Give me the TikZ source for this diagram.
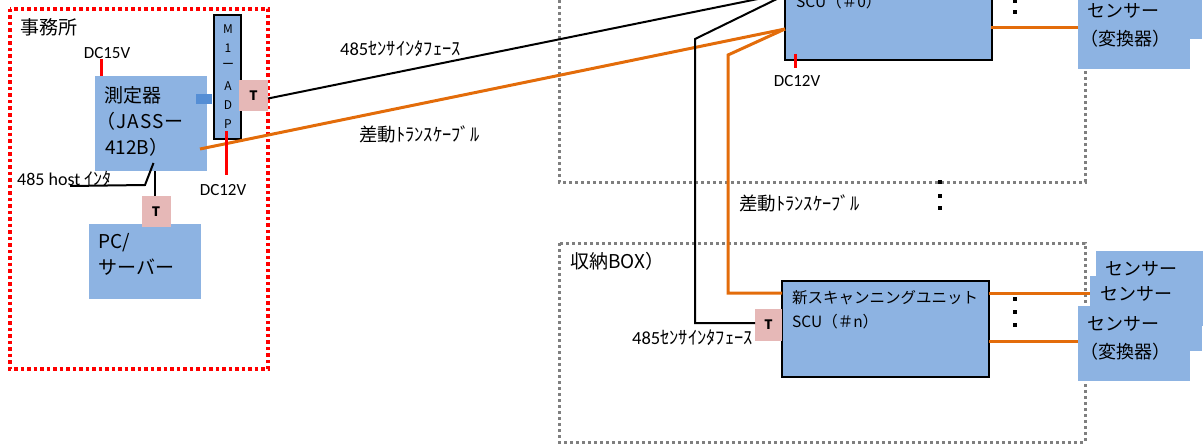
\documentclass[tikz,border=0pt]{standalone}
\usepackage{fontspec}
\setmainfont{Carlito}
\newfontfamily\jpfont{Noto Sans CJK JP}
\tikzset{
  bluebox/.style={fill=boxblue,inner sep=0,outer sep=0},
  unitbox/.style={bluebox,draw=black,line width=2pt,minimum width=207,minimum height=96},
  sensorbox/.style={bluebox,minimum width=112,minimum height=75},
  tbox/.style={fill=tpink,inner sep=0,outer sep=0,minimum width=29,minimum height=31,font=\jpfont\fontsize{13}{13}\selectfont\bfseries},
  bigtext/.style={anchor=west,inner sep=0,font=\jpfont\fontsize{19}{19}\selectfont},
  midtext/.style={anchor=west,inner sep=0,font=\jpfont\fontsize{15.5}{16}\selectfont},
  smalltext/.style={inner sep=0,font=\fontsize{17}{17}\selectfont},
  cabletext/.style={inner sep=0,font=\jpfont\fontsize{18.5}{19}\selectfont},
  sensortext/.style={anchor=west,inner sep=0,font=\jpfont\fontsize{18}{18}\selectfont},
  redline/.style={draw=red,line width=3pt},
  blackline/.style={draw=black,line width=2pt},
  orangeline/.style={draw=cableorange,line width=3pt},
  greybox/.style={draw=dotgrey,line width=3pt,dash pattern=on 3pt off 3pt}
}
\definecolor{boxblue}{HTML}{8DB3E2}
\definecolor{linkblue}{HTML}{558ED5}
\definecolor{tpink}{HTML}{E6B8B7}
\definecolor{cableorange}{HTML}{E36C0A}
\definecolor{dotgrey}{HTML}{7F7F7F}
\begin{document}
\begin{tikzpicture}[x=1pt,y=-1pt]
  \path[use as bounding box,clip] (0,0) rectangle (1203,444);
  % rooms
  \draw[draw=red,line width=3.5pt,dash pattern=on 3.5pt off 3pt] (10,9) rectangle (268,369);
  \draw[greybox] (559,-30) rectangle (1085,182);
  \draw[greybox] (559,243) rectangle (1085,442);
  \node[bigtext] (office) at (20,27) {事務所};
  \node[bigtext] (boxname) at (570,261) {収納BOX）};
  % office side
  \node[bluebox,minimum width=112,minimum height=95] (meter) at (151,123.5) {};
  \node[bigtext] at (104,95) {測定器};
  \node[bigtext] at (96,121) {\addfontfeature{LetterSpace=6}（JASSー};
  \node[bigtext] at (105,147) {412B）};
  \node[bluebox,minimum width=112,minimum height=75] (pc) at (145,261.5) {};
  \node[bigtext] at (98,243) {PC/};
  \node[bigtext] at (98,267) {サーバー};
  \node[fill=linkblue,inner sep=0,minimum width=16,minimum height=10] (link) at (204,99) {};
  \node[bluebox,draw=black,line width=2pt,minimum width=27,minimum height=124] (adp) at (227.5,77) {};
  \foreach \y/\c in {29/M,48/1,66/ー,86/A,105/D,124/P}
    \node[inner sep=0,font=\jpfont\fontsize{12}{12}\selectfont] at (228,\y) {\c};
  \node[tbox] (tadp) at (253.5,95.5) {T};
  \node[tbox] (tpc) at (156,211.5) {T};
  \coordinate (meterout) at (200,149);
  \coordinate (hostturn) at (145,185);
  \coordinate (hosttop) at (153.5,163);
  \coordinate (hostend) at (70,186);
  \coordinate (dcfifteen) at (101.5,59);
  \coordinate (dctwelvea) at (226,175);
  \coordinate (dctwelveb) at (226,131);
  \coordinate (dczeroa) at (795,54);
  \coordinate (dczerob) at (795,68);
  \coordinate (tpcup) at (155,171);
  % units and sensors
  \node[unitbox] (scuzero) at (888,12) {};
  \node[midtext] at (796,2) {SCU（＃0）};
  \node[unitbox] (scun) at (885.5,329) {};
  \node[midtext] at (792,298) {新スキャンニングユニット};
  \node[midtext] at (792,322) {SCU（＃n）};
  \node[tbox,minimum width=27,minimum height=32] (tn) at (768.5,325) {T};
  \coordinate (blackbend) at (695,39);
  \coordinate (blackin) at (785,-5);
  \coordinate (blackdown) at (695,323);
  \coordinate (orangebend) at (728,55);
  \coordinate (orangein) at (785,29);
  \coordinate (orangedown) at (728,293);
  \coordinate (blackend) at (770,-3.5);
  \draw[blackline] ([yshift=-3pt]tadp.east) -- (blackend);
  \draw[orangeline] (meterout) -- (orangein);
  \draw[blackline] (blackin) -- (blackbend) -- (blackdown) -- (blackdown -| tn.west);
  \draw[orangeline] (orangein) -- (orangebend) -- (orangedown) -- (orangedown -| scun.west);
  \draw[redline] (dcfifteen) -- (dcfifteen |- meter.north);
  \draw[redline] (dctwelveb) -- (dctwelvea);
  \draw[redline] (dczeroa) -- (dczerob);
  \draw[blackline] (hosttop) -- (hostturn) -- (hostend);
  \draw[blackline] (tpcup) -- (tpcup |- tpc.north);
  \foreach \n/\x/\y in {a/1096/251,b/1090/276,c/1078/306,d/1090/-36,e/1078/-6}
    \node[sensorbox,anchor=north west] (sen\n) at (\x,\y) {};
  \coordinate (cableb) at (989,293);
  \coordinate (cablec) at (989,341);
  \coordinate (cablee) at (991,28);
  \draw[orangeline] (cableb) -- (cableb -| senb.west);
  \draw[orangeline] (cablec) -- (cablec -| senc.west);
  \draw[orangeline] (cablee) -- (cablee -| sene.west);
  \node[sensortext] at (1105,269) {センサー};
  \node[sensortext] at (1100,294) {センサー};
  \node[sensortext] at (1087,324) {センサー};
  \node[sensortext] at (1080,352) {（変換器）};
  \node[sensortext] at (1087,11) {センサー};
  \node[sensortext] at (1080,39) {（変換器）};
  % dots
  \foreach \x/\y in {1015/1,1015/12,940/182,940/196,940/208,1015/299,1015/312,1015/325}
    \fill (\x-2,\y-2) rectangle (\x+2,\y+2);
  % labels
  \node[smalltext] at (107,53) {DC15V};
  \node[smalltext] at (223,190) {DC12V};
  \node[smalltext] at (797,81) {DC12V};
  \node[smalltext,anchor=west,font=\fontsize{18}{18}\selectfont] at (17,179) {485 host {\jpfont ｲﾝﾀ}};
  \node[cabletext,anchor=west] at (340,49) {{\rmfamily 485}ｾﾝｻｲﾝﾀﾌｪｰｽ};
  \node[cabletext,anchor=west] at (632,338) {{\rmfamily 485}ｾﾝｻｲﾝﾀﾌｪｰｽ};
  \node[cabletext,anchor=west] at (359,134) {差動ﾄﾗﾝｽｹｰﾌﾞﾙ};
  \node[cabletext,anchor=west] at (739,203) {差動ﾄﾗﾝｽｹｰﾌﾞﾙ};
\end{tikzpicture}
\end{document}
